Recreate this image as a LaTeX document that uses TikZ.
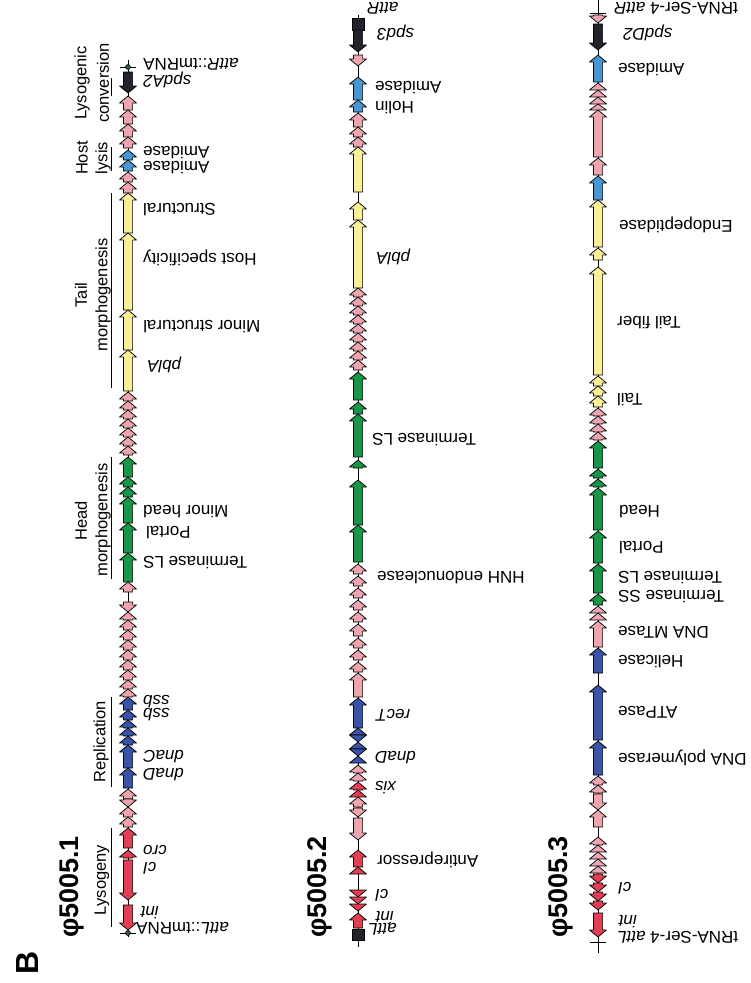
\documentclass[tikz,border=0pt]{standalone}
\usepackage{fontspec}
\setmainfont{Liberation Sans}
\definecolor{gpink}{RGB}{238,165,175}
\definecolor{gred}{RGB}{226,62,84}
\definecolor{gblue}{RGB}{58,82,168}
\definecolor{ggreen}{RGB}{24,150,72}
\definecolor{gyellow}{RGB}{250,238,150}
\definecolor{glb}{RGB}{72,150,210}
\definecolor{gblack}{RGB}{35,35,45}
\definecolor{gteal}{RGB}{40,90,80}
\newcommand{\geneup}[4]{%
  \pgfmathsetmacro\hh{min(7,#3-#2)}%
  \filldraw[fill=#4,draw=black,line width=0.7pt,line join=round]
    (#1,#2) -- (#1+8.5,#2+\hh) -- (#1+4.6,#2+\hh) -- (#1+4.6,#3) -- (#1-4.6,#3)
    -- (#1-4.6,#2+\hh) -- (#1-8.5,#2+\hh) -- cycle;}
\newcommand{\genedn}[4]{%
  \pgfmathsetmacro\hh{min(7,#3-#2)}%
  \filldraw[fill=#4,draw=black,line width=0.7pt,line join=round]
    (#1,#3) -- (#1+8.5,#3-\hh) -- (#1+4.6,#3-\hh) -- (#1+4.6,#2) -- (#1-4.6,#2)
    -- (#1-4.6,#3-\hh) -- (#1-8.5,#3-\hh) -- cycle;}
\tikzset{
  lab/.style={rotate=180,anchor=east,inner sep=0pt,font=\fontsize{17}{17}\selectfont},
  hdr/.style={rotate=90,inner sep=0pt,font=\fontsize{16.5}{17}\selectfont},
  ttl/.style={rotate=90,inner sep=0pt,font=\bfseries\fontsize{27}{28}\selectfont},
  axis/.style={line width=1pt,draw=black},
  bar/.style={line width=0.9pt,draw=black}
}
\begin{document}
\begin{tikzpicture}[x=1pt,y=-1pt]
\useasboundingbox (0,0) rectangle (751,983);
\fill[white] (0,0) rectangle (751,983);

% ---------------- map 1 ----------------
\draw[axis] (128,60) -- (128,937);
\draw[axis] (120,67) -- (136,67);
\filldraw[fill=gteal,draw=black,line width=0.5pt] (128,67) circle (2.5);
\genedn{128}{72}{93}{gblack}
\foreach \a/\b in {96/110,110/124,124/137,137/148,172/182,182/193}{\geneup{128}{\a}{\b}{gpink}}
\foreach \a/\b in {150/160,160/171}{\geneup{128}{\a}{\b}{glb}}
\foreach \a/\b in {193/233,233/310,310/350,350/391}{\geneup{128}{\a}{\b}{gyellow}}
\foreach \a/\b in {392/401,401/410,410/419,419/428,428/437,437/446,446/455}{\geneup{128}{\a}{\b}{gpink}}
\foreach \a/\b in {457/477,477/487,487/497,497/523,523/553,553/582}{\geneup{128}{\a}{\b}{ggreen}}
\geneup{128}{582}{592}{gpink}
\genedn{128}{602}{612}{gpink}
\foreach \a/\b in {612/620,620/630,630/640,640/650,650/660,660/670,670/680,680/689,689/697}{\geneup{128}{\a}{\b}{gpink}}
\foreach \a/\b in {697/710,710/720,720/728,728/736,736/745,745/768,768/788}{\geneup{128}{\a}{\b}{gblue}}
\foreach \a/\b in {789/799,807/817,817/827}{\geneup{128}{\a}{\b}{gpink}}
\genedn{128}{799}{807}{gpink}
\geneup{128}{828}{848}{gred}
\geneup{128}{850}{858}{gred}
\genedn{128}{860}{900}{gred}
\genedn{128}{905}{930}{gred}
\draw[axis] (120,933) -- (136,933);
\filldraw[fill=gteal,draw=black,line width=0.5pt] (128,933) circle (2.5);

\node[lab] (m1attR) at (143,64) {\textit{attR}::tmRNA};
\node[lab] (m1spd) at (143,80) {\textit{spdA2}};
\node[lab] (m1ami1) at (143,153) {Amidase};
\node[lab] (m1ami2) at (143,168) {Amidase};
\node[lab] (m1str) at (143,210) {Structural};
\node[lab] (m1host) at (143,258) {Host specificity};
\node[lab] (m1minor) at (143,327) {Minor structural};
\node[lab] (m1pbla) at (147,365) {\textit{pblA}};
\node[lab] (m1mh) at (143,512) {Minor head};
\node[lab] (m1portal) at (146,533) {Portal};
\node[lab] (m1term) at (143,563) {Terminase LS};
\node[lab] (m1ssb1) at (143,702) {\textit{ssb}};
\node[lab] (m1ssb2) at (143,715) {\textit{ssb}};
\node[lab] (m1dnac) at (143,757) {\textit{dnaC}};
\node[lab] (m1dnad) at (143,775) {\textit{dnaD}};
\node[lab] (m1cro) at (143,850) {\textit{cro}};
\node[lab] (m1ci) at (143,868) {\textit{cI}};
\node[lab] (m1int) at (140,913) {\textit{int}};
\node[lab] (m1attL) at (136,928) {\textit{attL}::tmRNA};

\node[hdr] (h1a) at (82,83) {Lysogenic};
\node[hdr] (h1b) at (103,83) {conversion};
\draw[bar] (111,78) -- (111,96);
\node[hdr] (h2a) at (82,158) {Host};
\node[hdr] (h2b) at (103,158) {lysis};
\draw[bar] (111,147) -- (111,171);
\node[hdr] (h3a) at (81,295) {Tail};
\node[hdr] (h3b) at (103,295) {morphogenesis};
\draw[bar] (111,193) -- (111,388);
\node[hdr] (h4a) at (81,521) {Head};
\node[hdr] (h4b) at (103,520) {morphogenesis};
\draw[bar] (111,457) -- (111,579);
\node[hdr] (h5) at (101,742) {Replication};
\draw[bar] (111,697) -- (111,787);
\node[hdr] (h6) at (102,880) {Lysogeny};
\draw[bar] (111,828) -- (111,927);

% ---------------- map 2 ----------------
\draw[axis] (358,15) -- (358,947);
\filldraw[fill=gblack,draw=black] (352,18) rectangle (364,30);
\genedn{358}{30}{52}{gblack}
\genedn{358}{55}{66}{gpink}
\geneup{358}{77}{100}{glb}
\geneup{358}{100}{112}{glb}
\foreach \a/\b in {113/127,127/137,137/147}{\geneup{358}{\a}{\b}{gpink}}
\foreach \a/\b in {147/192,202/220,220/288}{\geneup{358}{\a}{\b}{gyellow}}
\foreach \a/\b in {288/297,297/306,306/315,315/324,324/333,333/342,342/351,351/360,360/370}{\geneup{358}{\a}{\b}{gpink}}
\foreach \a/\b in {372/400,402/414,414/457,460/468,480/525,525/562}{\geneup{358}{\a}{\b}{ggreen}}
\foreach \a/\b in {564/574,576/586,588/598,600/610,612/622,624/636,638/648,650/660,662/672,673/697}{\geneup{358}{\a}{\b}{gpink}}
\foreach \a/\b in {698/728,728/735,742/749,756/763}{\geneup{358}{\a}{\b}{gblue}}
\foreach \a/\b in {735/742,749/756}{\genedn{358}{\a}{\b}{gblue}}
\foreach \a/\b in {765/773,773/781}{\geneup{358}{\a}{\b}{gpink}}
\foreach \a/\b in {782/790,790/797}{\geneup{358}{\a}{\b}{gred}}
\geneup{358}{797}{807}{gpink}
\genedn{358}{808}{817}{gpink}
\genedn{358}{818}{840}{gpink}
\geneup{358}{850}{867}{gred}
\geneup{358}{867}{874}{gred}
\foreach \a/\b in {890/897,897/904,904/911}{\genedn{358}{\a}{\b}{gred}}
\geneup{358}{913}{928}{gred}
\filldraw[fill=gblack,draw=black] (352,929) rectangle (364,940);

\node[lab] (m2attR) at (367,8) {\textit{attR}};
\node[lab] (m2spd) at (377,33) {\textit{spd3}};
\node[lab] (m2ami) at (375,88) {Amidase};
\node[lab] (m2hol) at (375,108) {Holin};
\node[lab] (m2pbla) at (376,257) {\textit{pblA}};
\node[lab] (m2term) at (372,440) {Terminase LS};
\node[lab] (m2hnh) at (377,578) {HNH endonuclease};
\node[lab] (m2rect) at (375,715) {\textit{recT}};
\node[lab] (m2dnad) at (375,758) {\textit{dnaD}};
\node[lab] (m2xis) at (375,788) {\textit{xis}};
\node[lab] (m2anti) at (377,860) {Antirepressor};
\node[lab] (m2ci) at (375,895) {\textit{cI}};
\node[lab] (m2int) at (375,918) {\textit{int}};
\node[lab] (m2attL) at (368,929) {\textit{attL}};

% ---------------- map 3 ----------------
\draw[axis] (598,0) -- (598,953);
\draw[axis] (590,13) -- (606,13);
\genedn{598}{15}{23}{gpink}
\genedn{598}{24}{50}{gblack}
\geneup{598}{55}{82}{glb}
\foreach \a/\b in {83/90,90/97,97/104,104/110}{\geneup{598}{\a}{\b}{gpink}}
\geneup{598}{110}{157}{gpink}
\geneup{598}{158}{175}{gpink}
\geneup{598}{176}{200}{glb}
\foreach \a/\b in {200/247,248/260,267/375,376/386,386/396,396/407}{\geneup{598}{\a}{\b}{gyellow}}
\foreach \a/\b in {408/416,416/424,424/432,432/440}{\geneup{598}{\a}{\b}{gpink}}
\foreach \a/\b in {441/468,469/478,479/487,488/530,531/563,564/593,594/605}{\geneup{598}{\a}{\b}{ggreen}}
\foreach \a/\b in {606/613,613/620,621/647}{\geneup{598}{\a}{\b}{gpink}}
\geneup{598}{648}{673}{gblue}
\geneup{598}{685}{740}{gblue}
\geneup{598}{741}{775}{gblue}
\foreach \a/\b in {776/785,785/793}{\geneup{598}{\a}{\b}{gpink}}
\genedn{598}{794}{810}{gpink}
\geneup{598}{810}{827}{gpink}
\foreach \a/\b in {837/845,845/852,852/859,859/866,866/873}{\geneup{598}{\a}{\b}{gpink}}
\foreach \a/\b in {874/883,883/892,892/901,901/910}{\genedn{598}{\a}{\b}{gred}}
\genedn{598}{913}{937}{gred}
\draw[axis] (590,942) -- (606,942);

\node[lab] (m3attR) at (614,8) {tRNA-Ser-4 \textit{attR}};
\node[lab] (m3spd) at (623,33) {\textit{spdD2}};
\node[lab] (m3ami) at (618,70) {Amidase};
\node[lab] (m3endo) at (619,225) {Endopeptidase};
\node[lab] (m3tf) at (617,323) {Tail fiber};
\node[lab] (m3tail) at (617,400) {Tail};
\node[lab] (m3head) at (619,512) {Head};
\node[lab] (m3portal) at (619,548) {Portal};
\node[lab] (m3tls) at (618,578) {Terminase LS};
\node[lab] (m3tss) at (618,597) {Terminase SS};
\node[lab] (m3mt) at (618,632) {DNA MTase};
\node[lab] (m3hel) at (618,662) {Helicase};
\node[lab] (m3atp) at (618,712) {ATPase};
\node[lab] (m3pol) at (618,758) {DNA polymerase};
\node[lab] (m3ci) at (618,888) {\textit{cI}};
\node[lab] (m3int) at (618,922) {\textit{int}};
\node[lab] (m3attL) at (617,937) {tRNA-Ser-4 \textit{attL}};

% titles
\node[ttl] (p1) at (72,887) {φ5005.1};
\node[ttl] (p2) at (320,887) {φ5005.2};
\node[ttl] (p3) at (561,887) {φ5005.3};
\node[rotate=90,inner sep=0pt,font=\bfseries\fontsize{32}{32}\selectfont] (B) at (27,963) {B};
\end{tikzpicture}
\end{document}
